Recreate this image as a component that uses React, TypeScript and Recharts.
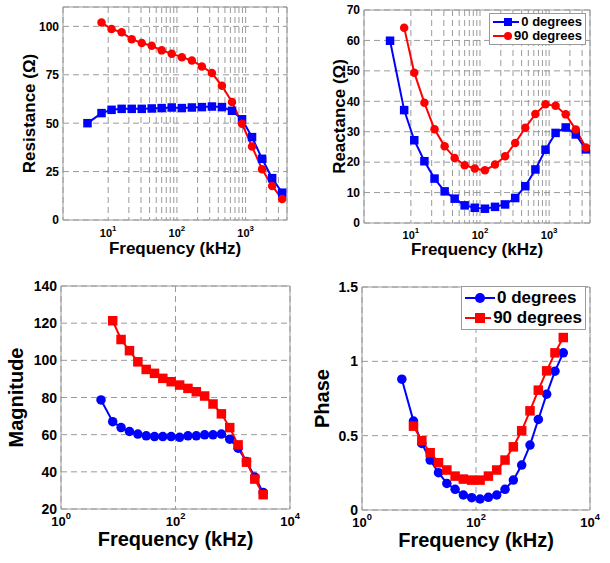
import { CartesianGrid, Legend, Line, LineChart, ReferenceArea, XAxis, YAxis } from 'recharts'

// sweep frequencies in kHz (the 90 degree runs start at the second one)
const FREQ = [5, 8, 11.2, 15.7, 22, 30.8, 43, 60, 84, 118, 165, 231, 323, 452, 633, 886, 1240, 1736, 2430, 3400]

const RESISTANCE_0 = [50, 55.2, 56.9, 57.4, 57.4, 57.4, 57.6, 57.8, 58.1, 57.8, 58.1, 58.3, 58.6, 58.3, 56.4, 52, 42.8, 31.6, 21.6, 14.1]
const RESISTANCE_90 = [null, 102, 98.6, 96.9, 93.4, 91.4, 90, 87.6, 85.9, 84.1, 82.4, 79.3, 75.9, 69.3, 60.9, 49.7, 37.9, 26.2, 17.6, 10.9]

const REACTANCE_0 = [59.9, 37.1, 27.2, 20.3, 14.6, 10.4, 8.0, 5.8, 5.0, 4.7, 5.3, 6.1, 8.2, 12.1, 17.6, 24.1, 29.6, 31.4, 29.1, 24.2]
const REACTANCE_90 = [null, 64.2, 49.4, 39.5, 30.8, 25.2, 21.4, 19.0, 17.9, 17.3, 19.2, 21.9, 26.3, 31.3, 35.8, 39.0, 38.5, 35.7, 30.7, 24.8]

const MAGNITUDE_0 = [78.7, 67, 63.8, 61.7, 60.3, 59.4, 59, 59, 59, 58.6, 59.4, 59.4, 59.9, 59.9, 60.3, 57.6, 52.7, 45.6, 37.2, 28.9]
const MAGNITUDE_90 = [null, 121.3, 111.2, 105.2, 99.2, 95.1, 93, 90.3, 88.5, 86.7, 84.9, 83.1, 80.8, 76.5, 71.2, 63.8, 54.5, 45.2, 36.1, 27.7]

const PHASE_0 = [0.88, 0.598, 0.448, 0.336, 0.251, 0.179, 0.139, 0.101, 0.083, 0.074, 0.085, 0.101, 0.139, 0.201, 0.302, 0.437, 0.609, 0.779, 0.934, 1.057]
const PHASE_90 = [null, 0.564, 0.466, 0.385, 0.318, 0.269, 0.228, 0.208, 0.201, 0.201, 0.228, 0.269, 0.336, 0.425, 0.533, 0.667, 0.806, 0.936, 1.057, 1.16]

// log grid for the top row (labels only on decades), decades only below
const X_TICKS_TOP = [10, 20, 30, 40, 50, 60, 70, 80, 90, 100, 200, 300, 400, 500, 600, 700, 800, 900, 1000, 2000, 3000]
const X_TICKS_BOTTOM = [1, 100, 10000]

const RESISTANCE_TICKS = [0, 25, 50, 75, 100]
const REACTANCE_TICKS = [0, 10, 20, 30, 40, 50, 60, 70]
const MAGNITUDE_TICKS = [20, 40, 60, 80, 100, 120, 140]
const PHASE_TICKS = [0, 0.5, 1, 1.5]

const SERIES_NAMES = ['0 degrees', '90 degrees']

const FONT = '"Liberation Sans", Arial, Helvetica, sans-serif'
const BLUE = '#0000ff'
const RED = '#ff0000'
const GRID = '#9a9a9a'

type Shape = 'square' | 'circle'

function rows(zero: (number | null)[], ninety: (number | null)[]) {
  return FREQ.map((f, i) => ({ f, zero: zero[i], ninety: ninety[i] }))
}

function marker(shape: Shape, color: string, size: number) {
  return (p: any) => {
    const key = `${p.dataKey}-${p.index}`
    if (p.cx == null || p.cy == null || p.value == null) return <g key={key} />
    if (shape === 'square') {
      return <rect key={key} x={p.cx - size / 2} y={p.cy - size / 2} width={size} height={size} fill={color} />
    }
    return <circle key={key} cx={p.cx} cy={p.cy} r={size / 2} fill={color} />
  }
}

function isDecade(v: number) {
  const l = Math.log10(v)
  return Math.abs(l - Math.round(l)) < 1e-9
}

function xTick(fontSize: number, dy: number) {
  return (p: any) => {
    const v = p.payload.value
    if (!isDecade(v)) return <g />
    return (
      <text x={p.x} y={p.y + dy} textAnchor="middle" fontFamily={FONT} fontWeight="bold" fontSize={fontSize} fill="#000">
        <tspan>10</tspan>
        <tspan dy={-fontSize * 0.55} fontSize={fontSize * 0.72}>{Math.round(Math.log10(v))}</tspan>
      </text>
    )
  }
}

function yTick(fontSize: number) {
  return (p: any) => (
    <text x={p.x - 4} y={p.y} dy="0.36em" textAnchor="end" fontFamily={FONT} fontWeight="bold" fontSize={fontSize} fill="#000">
      {p.payload.value}
    </text>
  )
}

function yTitle(text: string, fontSize: number, baselineX: number) {
  return (p: any) => {
    const vb = p.viewBox
    const cy = vb.y + vb.height / 2
    return (
      <text x={baselineX} y={cy} transform={`rotate(-90 ${baselineX} ${cy})`} textAnchor="middle" fontFamily={FONT} fontWeight="bold" fontSize={fontSize} fill="#000">
        {text}
      </text>
    )
  }
}

function xTitle(text: string, fontSize: number, dy: number) {
  return (p: any) => {
    const vb = p.viewBox
    return (
      <text x={vb.x + vb.width / 2} y={vb.y + dy} textAnchor="middle" fontFamily={FONT} fontWeight="bold" fontSize={fontSize} fill="#000">
        {text}
      </text>
    )
  }
}

interface LegendSpec {
  left: number
  top: number
  width: number
  fontSize: number
  rowH: number
  lineW: number
  size: number
}

function legendContent(spec: LegendSpec, shapes: Shape[]) {
  const colors = [BLUE, RED]
  return () => (
    <div
      style={{
        background: '#fff',
        border: `1px solid ${GRID}`,
        padding: '1px 3px 1px 3px',
        fontFamily: FONT,
        fontWeight: 'bold',
        fontSize: spec.fontSize,
        lineHeight: `${spec.rowH}px`,
        color: '#000',
      }}
    >
      {SERIES_NAMES.map((name, i) => {
        const mid = spec.lineW / 2
        const h = spec.rowH
        return (
          <div key={name} style={{ display: 'flex', alignItems: 'center', whiteSpace: 'nowrap', height: h }}>
            <svg width={spec.lineW} height={h} style={{ display: 'block' }}>
              <line x1={0} x2={spec.lineW} y1={h / 2} y2={h / 2} stroke={colors[i]} strokeWidth={2} />
              {shapes[i] === 'square' ? (
                <rect x={mid - spec.size / 2} y={h / 2 - spec.size / 2} width={spec.size} height={spec.size} fill={colors[i]} />
              ) : (
                <circle cx={mid} cy={h / 2} r={spec.size / 2} fill={colors[i]} />
              )}
            </svg>
            <span style={{ marginLeft: 2 }}>{name}</span>
          </div>
        )
      })}
    </div>
  )
}

interface PanelProps {
  left: number
  top: number
  width: number
  height: number
  margin: { top: number; right: number; bottom: number; left: number }
  yWidth: number
  xHeight: number
  xDomain: [number, number]
  xTicks: number[]
  yDomain: [number, number]
  yTicks: number[]
  data: { f: number; zero: number | null; ninety: number | null }[]
  shapes: Shape[]
  markerSize: number
  yLabel: string
  yLabelX: number
  titleSize: number
  xTitleDy: number
  xTickSize: number
  xTickDy: number
  yTickSize: number
  legend?: LegendSpec
}

function Panel(props: PanelProps) {
  const { xDomain, yDomain } = props
  return (
    <div style={{ position: 'absolute', left: props.left, top: props.top }}>
      <LineChart width={props.width} height={props.height} data={props.data} margin={props.margin}>
        <CartesianGrid stroke={GRID} strokeDasharray="6 4" />
        <XAxis
          dataKey="f"
          type="number"
          scale="log"
          domain={xDomain}
          ticks={props.xTicks}
          interval={0}
          allowDataOverflow
          height={props.xHeight}
          axisLine={false}
          tickLine={false}
          tickSize={0}
          tickMargin={0}
          tick={xTick(props.xTickSize, props.xTickDy)}
          label={xTitle('Frequency (kHz)', props.titleSize, props.xTitleDy)}
        />
        <YAxis
          type="number"
          domain={yDomain}
          ticks={props.yTicks}
          interval={0}
          allowDataOverflow
          width={props.yWidth}
          axisLine={false}
          tickLine={false}
          tickSize={0}
          tickMargin={0}
          tick={yTick(props.yTickSize)}
          label={yTitle(props.yLabel, props.titleSize, props.yLabelX)}
        />
        <ReferenceArea x1={xDomain[0]} x2={xDomain[1]} y1={yDomain[0]} y2={yDomain[1]} fill="none" stroke={GRID} strokeWidth={1} />
        <Line
          dataKey="zero"
          name={SERIES_NAMES[0]}
          stroke={BLUE}
          strokeWidth={2}
          dot={marker(props.shapes[0], BLUE, props.markerSize)}
          activeDot={false}
          isAnimationActive={false}
        />
        <Line
          dataKey="ninety"
          name={SERIES_NAMES[1]}
          stroke={RED}
          strokeWidth={2}
          dot={marker(props.shapes[1], RED, props.markerSize)}
          activeDot={false}
          isAnimationActive={false}
        />
        {props.legend && (
          <Legend
            layout="vertical"
            align="center"
            verticalAlign="middle"
            wrapperStyle={{ left: props.legend.left, top: props.legend.top, width: props.legend.width }}
            content={legendContent(props.legend, props.shapes)}
          />
        )}
      </LineChart>
    </div>
  )
}

export default function App() {
  return (
    <div style={{ position: 'absolute', left: 0, top: 0, width: 610, height: 563, background: '#fff' }}>
      <Panel
        left={0}
        top={0}
        width={305}
        height={272}
        margin={{ top: 7, right: 18, bottom: 0, left: 0 }}
        yWidth={63}
        xHeight={52}
        xDomain={[2.2, 4000]}
        xTicks={X_TICKS_TOP}
        yDomain={[0, 110]}
        yTicks={RESISTANCE_TICKS}
        data={rows(RESISTANCE_0, RESISTANCE_90)}
        shapes={['square', 'circle']}
        markerSize={8.5}
        yLabel="Resistance (Ω)"
        yLabelX={35}
        titleSize={17}
        xTitleDy={34}
        xTickSize={11}
        xTickDy={17}
        yTickSize={12}
      />
      <Panel
        left={305}
        top={0}
        width={305}
        height={272}
        margin={{ top: 10, right: 20, bottom: 0, left: 0 }}
        yWidth={59}
        xHeight={49}
        xDomain={[2.1, 3900]}
        xTicks={X_TICKS_TOP}
        yDomain={[0, 70]}
        yTicks={REACTANCE_TICKS}
        data={rows(REACTANCE_0, REACTANCE_90)}
        shapes={['square', 'circle']}
        markerSize={8.5}
        yLabel="Reactance (Ω)"
        yLabelX={40}
        titleSize={17}
        xTitleDy={31.5}
        xTickSize={11}
        xTickDy={16}
        yTickSize={12}
        legend={{ left: 184, top: 13, width: 97, fontSize: 13, rowH: 14, lineW: 30, size: 8 }}
      />
      <Panel
        left={0}
        top={272}
        width={305}
        height={291}
        margin={{ top: 14, right: 15, bottom: 0, left: 0 }}
        yWidth={61}
        xHeight={54}
        xDomain={[1, 10000]}
        xTicks={X_TICKS_BOTTOM}
        yDomain={[20, 140]}
        yTicks={MAGNITUDE_TICKS}
        data={rows(MAGNITUDE_0, MAGNITUDE_90)}
        shapes={['circle', 'square']}
        markerSize={9.5}
        yLabel="Magnitude"
        yLabelX={23}
        titleSize={20}
        xTitleDy={37}
        xTickSize={13}
        xTickDy={17}
        yTickSize={14}
      />
      <Panel
        left={305}
        top={272}
        width={305}
        height={291}
        margin={{ top: 15, right: 20, bottom: 0, left: 0 }}
        yWidth={57}
        xHeight={53}
        xDomain={[1, 10000]}
        xTicks={X_TICKS_BOTTOM}
        yDomain={[0, 1.5]}
        yTicks={PHASE_TICKS}
        data={rows(PHASE_0, PHASE_90)}
        shapes={['circle', 'square']}
        markerSize={9.5}
        yLabel="Phase"
        yLabelX={24}
        titleSize={20}
        xTitleDy={37}
        xTickSize={13}
        xTickDy={17}
        yTickSize={14}
        legend={{ left: 156, top: 14, width: 125, fontSize: 17, rowH: 20, lineW: 30, size: 10 }}
      />
    </div>
  )
}
